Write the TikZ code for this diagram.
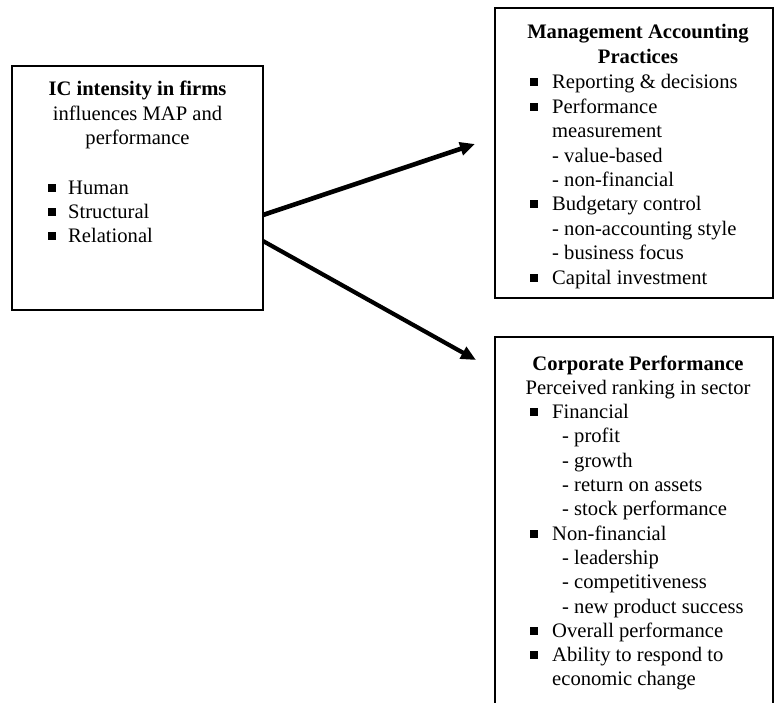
\documentclass[tikz,border=0pt]{standalone}
\usepackage{fontspec}
\setmainfont{Liberation Serif}
\usetikzlibrary{arrows.meta}
\begin{document}
\begin{tikzpicture}[x=1pt,y=-1pt,
  box/.style={draw, line width=2.9pt, inner sep=0pt},
  txt/.style={anchor=base west, inner sep=0pt, font=\fontsize{20.6}{24}\selectfont},
  ttl/.style={anchor=base, inner sep=0pt, font=\fontsize{20.6}{24}\selectfont},
  bul/.style={fill=black, inner sep=0pt, minimum size=8pt},
  conn/.style={line width=4.6pt, -{Triangle[length=15pt,width=13pt]}}]
\useasboundingbox (0,0) rectangle (776,703);
\clip (0,0) rectangle (776,703);

% boxes
\node[box, minimum width=251pt, minimum height=244pt] (ic) at (137.5,188) {};
\node[box, minimum width=278pt, minimum height=290pt] (map) at (634,153) {};
\node[box, minimum width=278pt, minimum height=393pt] (cp) at (634,533.5) {};

% left box text
\node[ttl, font=\fontsize{20.6}{24}\selectfont\bfseries] (ict1) at (137.5,96) {IC intensity in firms};
\node[ttl] (ict2) at (137.5,120.5) {influences MAP and};
\node[ttl] (ict3) at (137.5,145) {performance};
\foreach \lbl [count=\i] in {Human, Structural, Relational} {
  \pgfmathsetmacro\yy{195+(\i-1)*24}
  \node[txt] (icl\i) at (68,\yy) {\lbl};
  \node[bul] (icb\i) at (51.5,\yy-6.5) {};
}

% management accounting practices
\node[ttl, font=\fontsize{20.6}{24}\selectfont\bfseries] (mapt1) at (638,38.5) {Management Accounting};
\node[ttl, font=\fontsize{20.6}{24}\selectfont\bfseries] (mapt2) at (638,63.5) {Practices};
\foreach \px/\hasb/\lbl [count=\i] in {
  552/1/Reporting \& decisions,
  552/1/Performance,
  552/0/measurement,
  552/0/- value-based,
  552/0/- non-financial,
  552/1/Budgetary control,
  552/0/- non-accounting style,
  552/0/- business focus,
  552/1/Capital investment} {
  \pgfmathsetmacro\yy{89+(\i-1)*24.4}
  \node[txt] (mapl\i) at (\px,\yy) {\lbl};
  \ifnum\hasb=1 \node[bul] (mapb\i) at (534,\yy-6.5) {};\fi
}

% corporate performance
\node[ttl, font=\fontsize{20.6}{24}\selectfont\bfseries] (cpt1) at (638,370) {Corporate Performance};
\node[ttl] (cpt2) at (638,394.3) {Perceived ranking in sector};
\foreach \px/\hasb/\lbl [count=\i] in {
  552/1/Financial,
  562/0/- profit,
  562/0/- growth,
  562/0/- return on assets,
  562/0/- stock performance,
  552/1/Non-financial,
  562/0/- leadership,
  562/0/- competitiveness,
  562/0/- new product success,
  552/1/Overall performance,
  552/1/Ability to respond to,
  552/0/economic change} {
  \pgfmathsetmacro\yy{418.6+(\i-1)*24.3}
  \node[txt] (cpl\i) at (\px,\yy) {\lbl};
  \ifnum\hasb=1 \node[bul] (cpb\i) at (534,\yy-6.5) {};\fi
}

% connectors
\coordinate (s1) at (263,215);
\coordinate (e1) at (475,144);
\coordinate (s2) at (263,241);
\coordinate (e2) at (476,360);
\draw[conn] (s1) -- (e1);
\draw[conn, line width=4.2pt] (s2) -- (e2);
\end{tikzpicture}
\end{document}
